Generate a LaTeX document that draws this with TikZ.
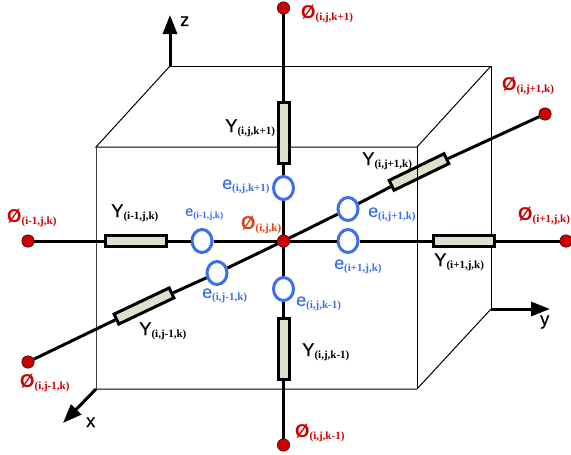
\documentclass[tikz,border=0pt]{standalone}
\usepackage{fontspec}
\setsansfont{Liberation Sans}
\newfontfamily\subfont{Liberation Serif}[Scale=1]
\newfontfamily\letterfont{Liberation Sans}[FakeBold=0.5]
\definecolor{phired}{RGB}{204, 0, 0}
\definecolor{centerred}{RGB}{216, 64, 16}
\definecolor{errblue}{RGB}{59, 111, 240}
\definecolor{admfill}{RGB}{221, 224, 202}
\usetikzlibrary{shapes.geometric, arrows.meta, positioning}
\tikzset{
    phinode/.style={draw=black, circle, fill=phired, minimum size=12.5pt, inner sep=0pt, line width=0.4pt},
    admbox/.style={draw=black, fill=admfill, minimum width=61pt, minimum height=11pt, inner sep=0pt, line width=3pt},
    errnode/.style={draw=errblue, ellipse, fill=white, minimum width=20pt, minimum height=23pt, inner sep=0pt, line width=3pt},
    wire/.style={draw=black, line width=3pt},
    cubeline/.style={draw=black, line width=1pt},
    axisarrow/.style={-{Triangle[length=19pt, width=14pt]}, draw=black, line width=3pt},
    tag/.style={anchor=base west, inner sep=0pt, font=\letterfont},
    axistag/.style={tag, font=\letterfont\fontsize{18}{18}\selectfont},
    admtag/.style={tag, text=black},
    errtag/.style={tag, text=errblue},
    phitag/.style={tag, text=phired},
}
% label: size of letter, letter, size of index, index
\newcommand{\lettersub}[4]{{\fontsize{#1}{#1}\selectfont #2}\raisebox{-2.5pt}{\fontsize{#3}{#3}\subfont\bfseries #4}}
\newcommand{\admlabel}[1]{\lettersub{18.5}{Y}{11}{#1}}
\newcommand{\errlabel}[1]{\lettersub{18}{e}{11}{#1}}
\newcommand{\philabel}[1]{\lettersub{18.5}{\sffamily\bfseries Ø}{11}{#1}}
\begin{document}
\begin{tikzpicture}[x=1pt, y=-1pt]
    \useasboundingbox (0, 0) rectangle (571, 455);

    % Cube corners
    \coordinate (ftl) at (96, 147);
    \coordinate (ftr) at (417, 147);
    \coordinate (fbl) at (96, 389);
    \coordinate (fbr) at (417, 389);
    \coordinate (btl) at (170, 66);
    \coordinate (btr) at (491, 66);
    \coordinate (bbr) at (491, 309);

    % Axis ends
    \coordinate (zend) at (170, 15);
    \coordinate (yend) at (550, 309);
    \coordinate (xend) at (63, 423);

    % Cube
    \draw[cubeline] (btl) -- (btr) -- (bbr);
    \draw[cubeline] (btl) -- (ftl) -- (ftr);
    \draw[cubeline] (ftr) -- (btr);
    \draw[cubeline] (fbl) -- (fbr) -- (bbr);
    \draw[cubeline, draw=black!75] (ftl) -- (fbl);

    % Cells
    \node[phinode] (center) at (283.5, 241) {};
    \node[phinode] (top) at (283.5, 8) {};
    \node[phinode] (bottom) at (283.5, 445) {};
    \node[phinode] (left) at (28, 241) {};
    \node[phinode] (right) at (566, 241) {};
    \node[phinode] (far) at (545, 114) {};
    \node[phinode] (near) at (28, 362) {};

    % Admittances
    \node[admbox, rotate=90] (ytop) at (283.5, 133) {};
    \node[admbox, rotate=90] (ybottom) at (283.5, 348.5) {};
    \node[admbox] (yleft) at (135.5, 241) {};
    \node[admbox] (yright) at (464, 241) {};
    \node[admbox, rotate=25.9] (yfar) at (419, 172) {};
    \node[admbox, rotate=25.4] (ynear) at (144, 306) {};

    % Errors
    \node[errnode] (etop) at (283.5, 188) {};
    \node[errnode] (ebottom) at (283.5, 289) {};
    \node[errnode] (eleft) at (202, 241) {};
    \node[errnode] (eright) at (348, 241) {};
    \node[errnode] (efar) at (348, 209) {};
    \node[errnode] (enear) at (217, 273) {};

    % Branches
    \draw[wire] (top) -- (ytop);
    \draw[wire] (ytop) -- (etop);
    \draw[wire] (etop) -- (center);
    \draw[wire] (center) -- (ebottom);
    \draw[wire] (ebottom) -- (ybottom);
    \draw[wire] (ybottom) -- (bottom);
    \draw[wire] (left) -- (yleft);
    \draw[wire] (yleft) -- (eleft);
    \draw[wire] (eleft) -- (center);
    \draw[wire] (center) -- (eright);
    \draw[wire] (eright) -- (yright);
    \draw[wire] (yright) -- (right);
    \draw[wire] (near) -- (ynear);
    \draw[wire] (ynear) -- (enear);
    \draw[wire] (enear) -- (center);
    \draw[wire] (center) -- (efar);
    \draw[wire] (efar) -- (yfar);
    \draw[wire] (yfar) -- (far);

    % Front edge stays visible across the branches
    \draw[cubeline] (ftr) -- (fbr);

    % Axes
    \draw[axisarrow] (btl) -- (zend);
    \draw[axisarrow] (bbr) -- (yend);
    \draw[axisarrow] (fbl) -- (xend);
    \node[axistag] (zlabel) at (180, 26) {z};
    \node[axistag] (xlabel) at (86, 427) {x};
    \node[axistag] (ylabel) at (540, 325) {y};

    % Admittance labels
    \node[admtag] (ltop) at (225, 132) {\admlabel{(i,j,k+1)}};
    \node[admtag] (lleft) at (111, 217) {\admlabel{(i-1,j,k)}};
    \node[admtag] (lfar) at (362, 165) {\admlabel{(i,j+1,k)}};
    \node[admtag] (lright) at (434, 266) {\admlabel{(i+1,j,k)}};
    \node[admtag] (lbottom) at (302, 356) {\admlabel{(i,j,k-1)}};
    \node[admtag] (lnear) at (139, 335) {\admlabel{(i,j-1,k)}};

    % Error labels
    \node[errtag] (mtop) at (222, 189) {\errlabel{(i,j,k+1)}};
    \node[errtag] (mleft) at (185, 216) {\lettersub{14.5}{e}{9.5}{(i-1,j,k)}};
    \node[errtag] (mfar) at (368, 217) {\errlabel{(i,j+1,k)}};
    \node[errtag] (mright) at (334, 269) {\errlabel{(i+1,j,k)}};
    \node[errtag] (mbottom) at (296, 306) {\errlabel{(i,j,k-1)}};
    \node[errtag] (mnear) at (202, 298) {\errlabel{(i,j-1,k)}};

    % Cell labels
    \node[phitag] (ptop) at (301, 18) {\philabel{(i,j,k+1)}};
    \node[phitag] (pfar) at (502, 90) {\philabel{(i,j+1,k)}};
    \node[phitag] (pleft) at (7, 222) {\philabel{(i-1,j,k)}};
    \node[phitag] (pright) at (518, 220) {\philabel{(i+1,j,k)}};
    \node[phitag] (pbottom) at (295, 437) {\philabel{(i,j,k-1)}};
    \node[phitag] (pnear) at (20, 387) {\philabel{(i,j-1,k)}};
    \node[tag, text=centerred] (pcenter) at (241, 229) {\philabel{(i,j,k)}};
\end{tikzpicture}
\end{document}
